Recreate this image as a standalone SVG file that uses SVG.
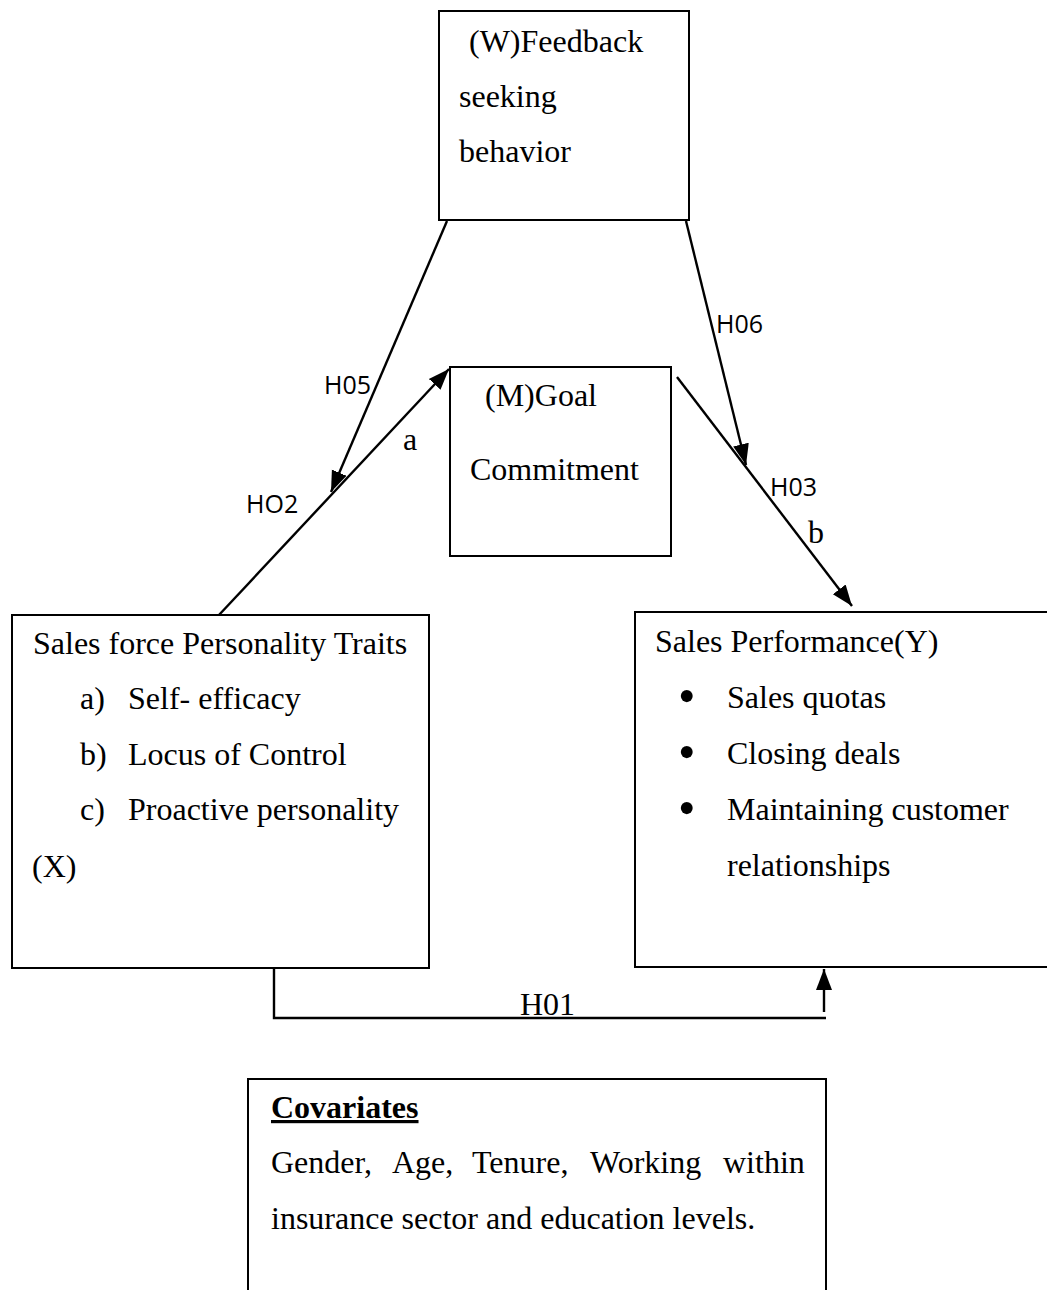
<svg xmlns="http://www.w3.org/2000/svg" width="1047" height="1290" viewBox="0 0 1047 1290">
<style>
.box{fill:#fff;stroke:#000;stroke-width:2}
.t{font-family:"Liberation Serif","Times New Roman",serif;font-size:32px;fill:#000}
.bul{font-family:"Liberation Serif","Times New Roman",serif;font-size:50px;fill:#000}
.lab{font-family:"Open Sans","Noto Sans",sans-serif;font-size:25px;fill:#000}
.ln{stroke:#000;stroke-width:2.4;fill:none}
</style>
<defs>
<marker id="ah" markerUnits="userSpaceOnUse" markerWidth="22" markerHeight="18" refX="21" refY="9" orient="auto">
<path d="M0,1 L21,9 L0,17 Z" fill="#000"/>
</marker>
</defs>
<rect width="1047" height="1290" fill="#fff"/>
<g id="node-w">
<rect class="box" x="439" y="11" width="250" height="209"/>
<text class="t" x="469" y="52">(W)Feedback</text>
<text class="t" x="459" y="107">seeking</text>
<text class="t" x="459" y="162">behavior</text>
</g>
<g id="node-m">
<rect class="box" x="450" y="367" width="221" height="189"/>
<text class="t" x="485" y="406">(M)Goal</text>
<text class="t" x="470" y="480">Commitment</text>
</g>
<g id="node-x">
<rect class="box" x="12" y="615" width="417" height="353"/>
<text class="t" x="33" y="654">Sales force Personality Traits</text>
<text class="t" x="80" y="709">a)</text><text class="t" x="128" y="709">Self- efficacy</text>
<text class="t" x="80" y="765">b)</text><text class="t" x="128" y="765">Locus of Control</text>
<text class="t" x="80" y="820">c)</text><text class="t" x="128" y="820">Proactive personality</text>
<text class="t" x="32" y="877">(X)</text>
</g>
<g id="node-y">
<rect class="box" x="635" y="612" width="420" height="355"/>
<text class="t" x="655" y="652">Sales Performance(Y)</text>
<text class="bul" x="678" y="713">•</text><text class="t" x="727" y="708">Sales quotas</text>
<text class="bul" x="678" y="769">•</text><text class="t" x="727" y="764">Closing deals</text>
<text class="bul" x="678" y="825">•</text><text class="t" x="727" y="820">Maintaining customer</text>
<text class="t" x="727" y="876">relationships</text>
</g>
<g id="node-cov">
<rect class="box" x="248" y="1079" width="578" height="230"/>
<text class="t" x="271" y="1118" font-weight="bold" text-decoration="underline">Covariates</text>
<text class="t" y="1173"><tspan x="271">Gender,</tspan><tspan x="392">Age,</tspan><tspan x="472">Tenure,</tspan><tspan x="590">Working</tspan><tspan x="723">within</tspan></text>
<text class="t" x="271" y="1229">insurance sector and education levels.</text>
</g>
<g id="connectors">
<line class="ln" x1="447" y1="221" x2="331" y2="492" marker-end="url(#ah)"/>
<line class="ln" x1="219" y1="615" x2="449" y2="369" marker-end="url(#ah)"/>
<line class="ln" x1="686" y1="221" x2="746" y2="465" marker-end="url(#ah)"/>
<line class="ln" x1="677" y1="377" x2="852" y2="606" marker-end="url(#ah)"/>
<polyline class="ln" points="274,968 274,1018 826,1018"/>
<line class="ln" x1="824" y1="1012" x2="824" y2="969" marker-end="url(#ah)"/>
<text class="lab" x="324" y="394">H05</text>
<text class="lab" x="246" y="513">HO2</text>
<text class="lab" x="716" y="333">H06</text>
<text class="lab" x="770" y="496">H03</text>
<text class="t" x="403" y="450">a</text>
<text class="t" x="808" y="543">b</text>
<text class="t" x="520" y="1015" font-size="28">H01</text>
</g>
</svg>
